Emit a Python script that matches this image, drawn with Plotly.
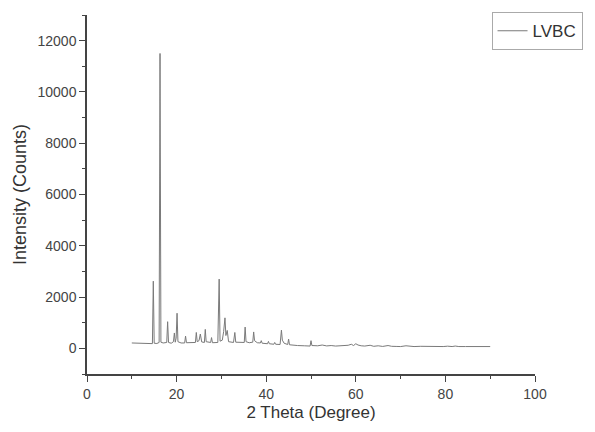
import plotly.graph_objects as go

# Peak vertices (2θ in degrees, intensity in counts)
two_theta = [
    10.0, 11.0, 12.0, 13.0, 14.0, 14.6, 14.8, 15.0, 15.6, 16.1, 16.3, 16.5, 17.0,
    17.8, 18.0, 18.2, 18.8, 19.3, 19.5, 19.7, 19.9, 20.1, 20.3, 21.0, 21.8, 22.0,
    22.2, 23.5, 24.2, 24.4, 24.6, 25.0, 25.3, 25.6, 26.2, 26.4, 26.6, 27.6, 27.8,
    28.0, 29.2, 29.5, 29.7, 30.2, 30.5, 30.8, 31.0, 31.3, 31.6, 32.7, 33.0, 33.2,
    34.2, 35.1, 35.3, 35.5, 36.2, 37.0, 37.2, 37.4, 38.0, 38.7, 38.9, 39.1, 40.3,
    40.5, 40.7, 41.7, 41.9, 42.1, 43.1, 43.4, 43.6, 44.0, 44.8, 45.0, 45.2, 46.0,
    47.0, 48.5, 49.8, 50.0, 50.2, 51.5, 52.5, 53.5, 54.5, 55.5, 56.5, 57.5, 58.3,
    59.0, 59.5, 60.0, 60.5, 61.2, 62.0, 63.2, 64.0, 65.0, 66.0, 67.2, 68.0, 69.0,
    70.0, 71.2, 72.0, 73.0, 74.5, 76.0, 77.0, 78.0, 79.5, 80.5, 81.5, 82.2, 83.0,
    84.5, 86.0, 87.5, 88.5, 90.0,
]
intensity = [
    210, 200, 190, 185, 180, 185, 2620, 200, 190, 230, 11500, 240, 210,
    230, 1040, 230, 200, 260, 600, 240, 400, 1370, 260, 210, 210, 480,
    220, 210, 230, 620, 260, 300, 560, 250, 230, 740, 260, 230, 420,
    220, 230, 2700, 280, 320, 650, 1190, 500, 700, 260, 230, 620, 240,
    220, 230, 830, 260, 220, 240, 640, 300, 220, 210, 300, 200, 180,
    270, 180, 160, 230, 160, 150, 710, 320, 200, 150, 360, 140, 120,
    110, 100, 90, 300, 110, 100, 130, 95, 110, 90, 95, 100, 120,
    160, 110, 180, 130, 100, 90, 120, 80, 100, 75, 110, 80, 75,
    70, 100, 75, 70, 80, 70, 90, 70, 70, 85, 70, 90, 70,
    70, 75, 70, 80, 70,
]

series_name = "LVBC"
x_title = "2 Theta (Degree)"
y_title = "Intensity (Counts)"
x_ticks = [0, 20, 40, 60, 80, 100]
y_ticks = [0, 2000, 4000, 6000, 8000, 10000, 12000]

FONT = "Liberation Sans, Arial, sans-serif"

fig = go.Figure()
fig.add_trace(go.Scatter(
    x=two_theta, y=intensity, mode="lines", name=series_name,
    line=dict(color="#7a7a7a", width=1),
))

axis_common = dict(
    showline=True, linecolor="#444444", linewidth=1.5,
    ticks="outside", ticklen=6, tickwidth=1.2, tickcolor="#444444",
    showgrid=False, zeroline=False, mirror=False,
    tickfont=dict(family=FONT, size=14, color="#444444"),
)

fig.update_xaxes(
    range=[0, 100], tickvals=x_ticks, title_text=x_title,
    title_font=dict(family=FONT, size=17, color="#333333"),
    minor=dict(ticks="outside", ticklen=3, tickcolor="#444444", dtick=10, tick0=0),
    title_standoff=6, **axis_common,
)
fig.update_yaxes(
    range=[-1000, 13000], tickvals=y_ticks, tickformat="d",
    title_text=y_title,
    title_font=dict(family=FONT, size=18, color="#333333"),
    minor=dict(ticks="outside", ticklen=3, tickcolor="#444444", dtick=1000, tick0=0),
    title_standoff=6, **axis_common,
)

# page body has an 8px margin, so the figure is offset by 8px
fig.update_layout(
    width=587, height=424,
    margin=dict(l=79, r=59.5, t=5.5, b=58),
    plot_bgcolor="white", paper_bgcolor="white",
    showlegend=True,
    legend=dict(
        x=0.903, y=1.005, xanchor="left", yanchor="top",
        bordercolor="#aaaaaa", borderwidth=1, bgcolor="white",
        font=dict(family=FONT, size=17, color="#333333"),
        tracegroupgap=0,
    ),
)

fig.write_html("out.html")
